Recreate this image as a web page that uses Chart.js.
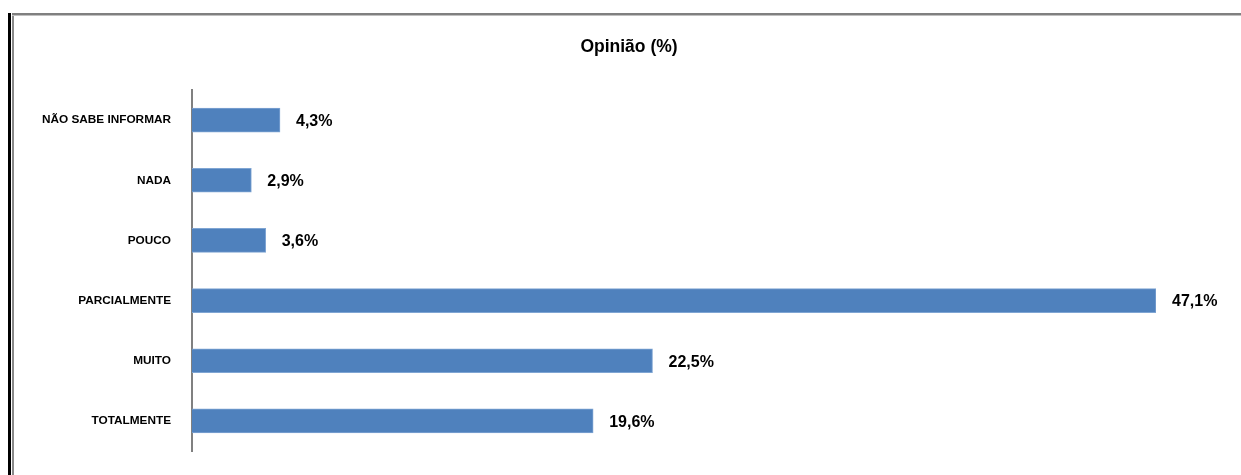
<!DOCTYPE html>
<html>
<head>
<meta charset="utf-8">
<script src="https://cdn.jsdelivr.net/npm/chart.js@4"></script>
<style>
    html, body { margin: 0; padding: 0; background: #fff; }
    .wrap { position: relative; width: 1241px; height: 475px; overflow: hidden; }
    canvas { position: absolute; left: 0; top: 0; }
    .frame-black { position: absolute; left: 8px; top: 13px; width: 3px; height: 462px; background: #000; }
    .frame-gray-v { position: absolute; left: 12px; top: 13px; width: 2px; height: 462px; background: #8a8a8a; }
    .frame-gray-h { position: absolute; left: 12px; top: 13px; width: 1229px; height: 2px; background: #808080; border-bottom: 1px solid #c0c0c0; }
</style>
</head>
<body>
<div class="wrap">
    <canvas id="opiniaoChart" width="1241" height="475"></canvas>
    <div class="frame-black"></div>
    <div class="frame-gray-v"></div>
    <div class="frame-gray-h"></div>
</div>
<script>
// Chart data
const chartTitle = 'Opinião (%)';
const categories = ['NÃO SABE INFORMAR', 'NADA', 'POUCO', 'PARCIALMENTE', 'MUITO', 'TOTALMENTE'];
const percentages = [4.3, 2.9, 3.6, 47.1, 22.5, 19.6];

const FONT = "'Liberation Sans', Arial, sans-serif";

// Draws the title centred above the plot
const titlePlugin = {
    id: 'fixedTitle',
    afterDraw(chart) {
        const ctx = chart.ctx;
        ctx.save();
        ctx.font = `bold 17.5px ${FONT}`;
        ctx.fillStyle = '#000';
        ctx.textAlign = 'center';
        ctx.textBaseline = 'middle';
        ctx.fillText(chartTitle, 629, 47);
        ctx.restore();
    }
};

// Value labels at the end of each bar
const valueLabels = {
    id: 'valueLabels',
    afterDatasetsDraw(chart) {
        const ctx = chart.ctx;
        const meta = chart.getDatasetMeta(0);
        ctx.save();
        ctx.font = `bold 16px ${FONT}`;
        ctx.fillStyle = '#000';
        ctx.textAlign = 'left';
        ctx.textBaseline = 'middle';
        meta.data.forEach((bar, i) => {
            const text = percentages[i].toFixed(1).replace('.', ',') + '%';
            ctx.fillText(text, bar.x + 16, bar.y + 1.5);
        });
        ctx.restore();
    }
};

new Chart(document.getElementById('opiniaoChart'), {
    type: 'bar',
    data: {
        labels: categories,
        datasets: [{
            data: percentages,
            backgroundColor: '#4F81BD',
            borderColor: '#7FA5D3',
            borderWidth: 1,
            borderSkipped: 'left',
            barThickness: 24
        }]
    },
    options: {
        indexAxis: 'y',
        responsive: false,
        animation: false,
        layout: {
            padding: { top: 90, right: 85, bottom: 24, left: 0 }
        },
        scales: {
            x: {
                display: false,
                min: 0,
                max: Math.max(...percentages)
            },
            y: {
                afterFit(scale) {
                    scale.width = 192;
                    // let the layout padding alone decide the plot height
                    scale.paddingTop = 0;
                    scale.paddingBottom = 0;
                },
                grid: { color: 'rgba(0,0,0,0)', drawTicks: false },
                border: { display: true, color: '#808080', width: 2 },
                ticks: {
                    padding: 21,
                    color: '#000',
                    font: { family: FONT, size: 11.8, weight: 'bold' }
                }
            }
        },
        plugins: {
            legend: { display: false },
            tooltip: { enabled: false }
        }
    },
    plugins: [titlePlugin, valueLabels]
});
</script>
</body>
</html>
